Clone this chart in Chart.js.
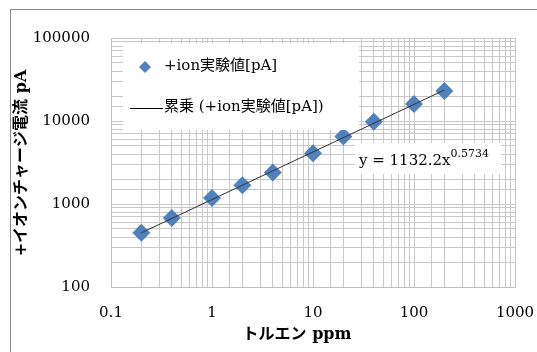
<!DOCTYPE html>
<html>
<head>
<meta charset="utf-8">
<script src="https://cdn.jsdelivr.net/npm/chart.js@4/dist/chart.umd.min.js"></script>
<style>
  html, body { margin: 0; padding: 0; background: #fff; }
  #wrap { width: 537px; height: 352px; position: relative; }
</style>
</head>
<body>
<div id="wrap"><canvas id="grafico" width="537" height="352"></canvas></div>
<script>
// datos
const ppm = [0.2, 0.4, 1, 2, 4, 10, 20, 40, 100, 200];
const corriente = [450, 680, 1180, 1680, 2400, 4100, 6500, 9800, 16000, 23000];
const tendenciaX = [0.2, 200];
const tendenciaY = [450, 23600];
const etiquetaSerie = "+ion実験値[pA]";
const etiquetaTendencia = "累乗 (+ion実験値[pA])";
const tituloY = "+イオンチャージ電流 pA";
const tituloX = "トルエン ppm";

const AZUL = "#4f81bd";
const SERIF = "'DejaVu Serif', 'Liberation Serif', 'Noto Sans CJK JP', serif";

function esPotencia(v) {
    const e = Math.log10(v);
    return Math.abs(e - Math.round(e)) < 1e-9;
}
function formatoLog(v) {
    if (!esPotencia(v)) return "";
    const e = Math.round(Math.log10(v));
    return e < 0 ? v.toFixed(-e) : String(Math.round(v));
}

// marco, leyenda, ecuacion y titulos
const extras = {
    id: "extras",
    beforeDraw(chart) {
        const ctx = chart.ctx;
        ctx.save();
        ctx.fillStyle = "#fff";
        ctx.fillRect(0, 0, chart.width, chart.height);
        ctx.restore();
    },
    afterDraw(chart) {
        const ctx = chart.ctx;
        ctx.save();
        // borde exterior
        ctx.strokeStyle = "#8c8c8c";
        ctx.lineWidth = 1;
        ctx.strokeRect(10.5, 9.5, 540, 360);

        // leyenda
        ctx.fillStyle = "#fff";
        ctx.fillRect(123, 43, 236, 87);
        ctx.fillStyle = AZUL;
        ctx.beginPath();
        ctx.moveTo(145, 61); ctx.lineTo(151, 67); ctx.lineTo(145, 73); ctx.lineTo(139, 67);
        ctx.closePath();
        ctx.fill();
        ctx.fillStyle = "#000";
        ctx.font = "15px " + SERIF;
        ctx.textBaseline = "middle";
        ctx.fillText(etiquetaSerie, 164, 66);
        ctx.strokeStyle = "#000";
        ctx.beginPath();
        ctx.moveTo(130, 108.5); ctx.lineTo(163, 108.5);
        ctx.stroke();
        ctx.fillText(etiquetaTendencia, 164, 107);

        // ecuacion
        ctx.fillStyle = "#fff";
        ctx.fillRect(355, 143, 146, 31);
        ctx.fillStyle = "#000";
        ctx.font = "15px " + SERIF;
        ctx.textBaseline = "alphabetic";
        ctx.fillText("y = 1132.2x", 359, 165);
        const w = ctx.measureText("y = 1132.2x").width;
        ctx.font = "11px " + SERIF;
        ctx.fillText("0.5734", 359 + w, 157);

        // titulos de ejes
        ctx.font = "bold 16px " + SERIF;
        ctx.textAlign = "center";
        ctx.textBaseline = "middle";
        ctx.fillText(tituloX, 297, 335);
        ctx.translate(22, 163);
        ctx.rotate(-Math.PI / 2);
        ctx.fillText(tituloY, 0, 0);
        ctx.restore();
    }
};

new Chart(document.getElementById("grafico"), {
    type: "scatter",
    data: {
        datasets: [
            {
                label: etiquetaSerie,
                data: ppm.map((x, i) => ({ x: x, y: corriente[i] })),
                pointStyle: "rectRot",
                pointRadius: 9,
                pointHoverRadius: 9,
                backgroundColor: AZUL,
                borderColor: AZUL,
                borderWidth: 0,
                order: 1
            },
            {
                label: etiquetaTendencia,
                data: tendenciaX.map((x, i) => ({ x: x, y: tendenciaY[i] })),
                showLine: true,
                pointRadius: 0,
                borderColor: "#333",
                borderWidth: 1,
                order: 0
            }
        ]
    },
    options: {
        responsive: false,
        animation: false,
        layout: { padding: { left: 0, top: 38, right: 22, bottom: 0 } },
        plugins: { legend: { display: false }, tooltip: { enabled: false } },
        scales: {
            x: {
                type: "logarithmic",
                min: 0.1,
                max: 1000,
                afterFit: s => { s.height = 65; s.paddingLeft = 0; s.paddingRight = 0; },
                border: { display: true, color: "#bfbfbf" },
                grid: { color: "#c8c8c8", drawTicks: false },
                ticks: {
                    autoSkip: false,
                    maxRotation: 0,
                    padding: 17,
                    color: "#000",
                    font: { family: SERIF, size: 15 },
                    callback: v => formatoLog(v)
                }
            },
            y: {
                type: "logarithmic",
                min: 100,
                max: 100000,
                afterFit: s => { s.width = 111; s.paddingTop = 0; s.paddingBottom = 0; },
                border: { display: true, color: "#bfbfbf" },
                grid: { color: "#c8c8c8", drawTicks: false },
                ticks: {
                    autoSkip: false,
                    padding: 21,
                    color: "#000",
                    font: { family: SERIF, size: 15 },
                    callback: v => formatoLog(v)
                }
            }
        }
    },
    plugins: [extras]
});
</script>
</body>
</html>
